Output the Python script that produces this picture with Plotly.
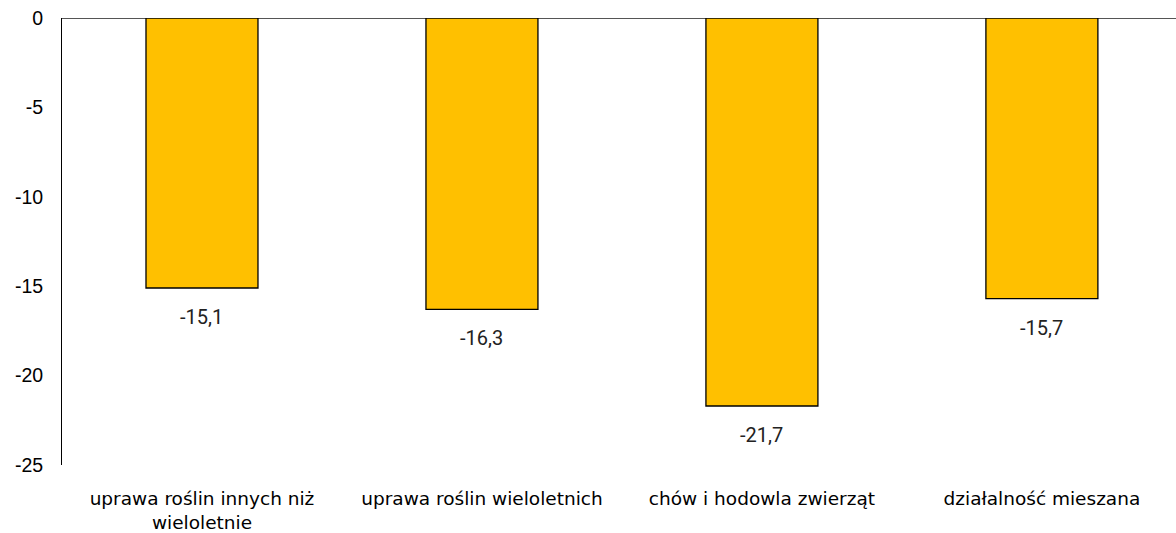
import plotly.graph_objects as go

categories = ["uprawa roślin innych niż<br>wieloletnie", "uprawa roślin wieloletnich",
              "chów i hodowla zwierząt", "działalność mieszana"]
values = [-15.1, -16.3, -21.7, -15.7]
value_labels = ["-15,1", "-16,3", "-21,7", "-15,7"]
y_ticks = [0, -5, -10, -15, -20, -25]

x_pos = list(range(len(categories)))

fig = go.Figure(go.Bar(
    x=x_pos, y=values,
    width=0.4,
    marker=dict(color="#FFC000", line=dict(color="#000000", width=1.3)),
    hoverinfo="skip",
))

for xv, yv, lab in zip(x_pos, values, value_labels):
    fig.add_annotation(
        x=xv, y=yv, text=lab, showarrow=False,
        yanchor="top", yshift=-15,
        font=dict(family="Roboto", size=20, color="#222222"),
    )

fig.update_layout(
    width=1176, height=533,
    margin=dict(l=62, r=0, t=18, b=68, autoexpand=False),
    plot_bgcolor="white", paper_bgcolor="white",
    showlegend=False,
    xaxis=dict(
        tickmode="array", tickvals=x_pos, ticktext=categories,
        range=[-0.5, 3.479], showgrid=False, showline=False, zeroline=False,
        ticks="outside", ticklen=17, tickcolor="rgba(0,0,0,0)",
        tickfont=dict(family="DejaVu Sans", size=18.5, color="#000000"),
    ),
    yaxis=dict(
        range=[-25, 0], tickvals=y_ticks, ticktext=[str(v) for v in y_ticks],
        showgrid=False, showline=True, linecolor="#000000", linewidth=1,
        zeroline=True, zerolinecolor="#555555", zerolinewidth=1,
        ticks="outside", ticklen=14, tickcolor="rgba(0,0,0,0)",
        tickfont=dict(family="Liberation Sans", size=19.5, color="#000000"),
    ),
)

fig.write_html(
    "out.html",
    config={"displayModeBar": False, "staticPlot": True},
    post_script="document.body.style.margin='0';document.body.style.padding='0';",
)
